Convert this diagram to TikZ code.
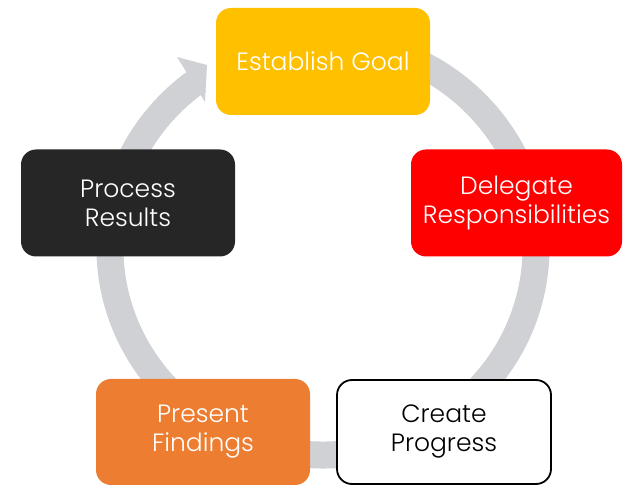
\documentclass[tikz,border=0pt]{standalone}
\usepackage{fontspec}
\setmainfont{Poppins}[UprightFont=* Light]
\usetikzlibrary{positioning}
\definecolor{ringgray}{HTML}{D0D1D5}
\definecolor{goldc}{HTML}{FFC000}
\definecolor{redc}{HTML}{FF0000}
\definecolor{darkc}{HTML}{262626}
\definecolor{orangec}{HTML}{ED7D31}
\tikzset{
  stepbox/.style={rounded corners=15pt, minimum width=214pt, minimum height=107pt,
    align=center, inner sep=0pt, font=\fontsize{25}{29}\selectfont},
  ring/.style={draw=ringgray, line width=27pt},
  ringtip/.style={fill=ringgray, draw=none}
}
\begin{document}
\begin{tikzpicture}[x=1pt,y=1pt]
\useasboundingbox (0,0) rectangle (623,486);
% ring
\draw[ring] (323,238) ++(80:213 and 207) arc[start angle=80, end angle=-234, x radius=213, y radius=207];
\coordinate (tipA) at (177,429);
\coordinate (tipB) at (207,421);
\coordinate (tipC) at (205,384);
\fill[ringtip] (tipA) -- (tipB) -- (tipC) -- cycle;
% boxes
\node[stepbox, fill=goldc, text=white] (goal) at (323,424.5) {Establish Goal};
\node[stepbox, fill=redc, text=white, minimum width=211pt] (deleg) at (516.5,283) {Delegate\\Responsibilities};
\node[stepbox, fill=darkc, text=white] (proc) at (128,283) {Process\\Results};
\node[stepbox, fill=orangec, text=white, minimum height=106pt] (pres) at (203,54) {Present\\Findings};
\node[stepbox, fill=white, draw=black, line width=1.8pt, text=black, minimum width=214pt, minimum height=104pt] (create) at (444,54) {Create\\Progress};
\end{tikzpicture}
\end{document}
